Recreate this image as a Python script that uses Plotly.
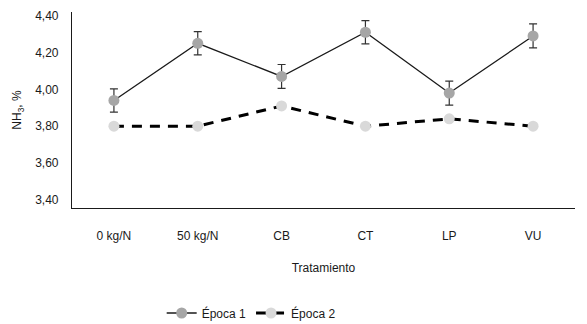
import plotly.graph_objects as go

categorias = ["0 kg/N", "50 kg/N", "CB", "CT", "LP", "VU"]
epoca1 = [3.94, 4.25, 4.07, 4.31, 3.98, 4.29]
epoca1_err = [0.063, 0.063, 0.065, 0.063, 0.065, 0.065]
epoca2 = [3.80, 3.80, 3.91, 3.80, 3.84, 3.80]
y_ticks = [3.40, 3.60, 3.80, 4.00, 4.20, 4.40]

font = "Liberation Sans, Arial, sans-serif"
txt = "#1a1a1a"

fig = go.Figure()
fig.add_trace(go.Scatter(
    x=categorias, y=epoca1, name="Época 1", mode="lines+markers",
    line=dict(color="#1a1a1a", width=1.3),
    marker=dict(color="#a6a6a6", size=11),
    error_y=dict(type="data", array=epoca1_err, color="#333333", thickness=1.2, width=4),
))
fig.add_trace(go.Scatter(
    x=categorias, y=epoca2, name="Época 2", mode="lines+markers",
    line=dict(color="#000000", width=3, dash="10px,8px"),
    marker=dict(color="#d9d9d9", size=11),
))

# the page body adds an 8px offset; figure size compensates
fig.update_layout(
    width=579, height=316,
    margin=dict(l=64, r=12, t=4, b=116, autoexpand=False),
    paper_bgcolor="white", plot_bgcolor="white",
    separators=",.",
    font=dict(family=font, size=11, color=txt),
    showlegend=True,
    legend=dict(orientation="h", x=0.42, xanchor="center", xref="container",
                y=11/316, yanchor="middle", yref="container",
                font=dict(size=12, color=txt), itemwidth=30),
    xaxis=dict(
        range=[-0.5, 5.5],
        showline=True, linecolor="#1a1a1a", linewidth=1.2, showgrid=False, ticks="",
        title=dict(text="Tratamiento", font=dict(size=12, color=txt), standoff=22),
        tickfont=dict(size=12, color=txt), ticklabelstandoff=16,
    ),
    yaxis=dict(
        range=[3.356, 4.42], tickvals=y_ticks, tickformat=".2f",
        showline=True, linecolor="#1a1a1a", linewidth=1.2, showgrid=False, ticks="",
        zeroline=False, tickfont=dict(size=12, color=txt), ticklabelstandoff=10,
        title=dict(text="NH<sub>3</sub>, %", font=dict(size=12, color=txt), standoff=10),
    ),
)

fig.write_html("out.html")
